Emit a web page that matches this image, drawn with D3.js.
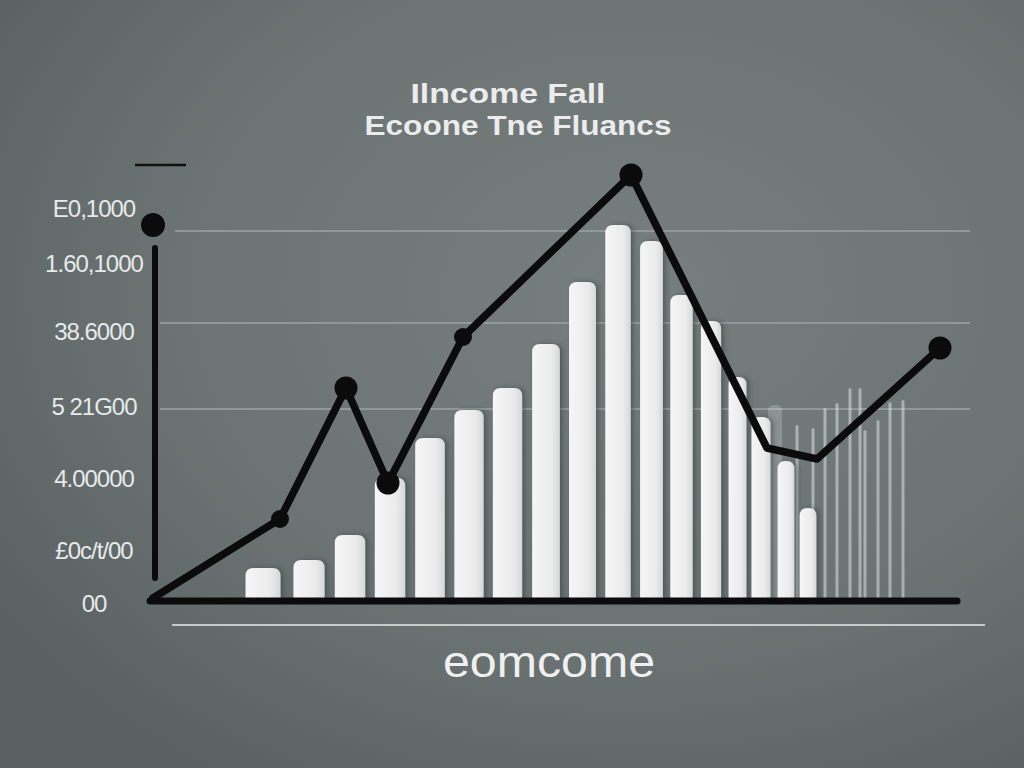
<!DOCTYPE html>
<html>
<head>
<meta charset="utf-8">
<script src="https://cdn.jsdelivr.net/npm/d3@7"></script>
<style>
html, body { margin: 0; padding: 0; background: #687070; overflow: hidden; }
</style>
</head>
<body>
<div id="chart"></div>
<script>
// chart data
var titleLines = ["Ilncome Fall", "Ecoone Tne Fluancs"];
var xLabel = "eomcome";
var yTickValues = [98, 84.25, 67.25, 48.5, 30.5, 12.5, -0.75];
var yTickLabels = ["E0,1000", "1.60,1000", "38.6000", "5 21G00", "4.00000", "£0c/t/00", "00"];
var gridValues = [92.5, 69.5, 48];
var barWeeks = [11, 15.6, 19.7, 23.7, 27.7, 31.6, 35.45, 39.3, 42.95, 46.5, 49.85, 52.85, 55.8, 58.45, 60.8, 63.3, 65.5];
var barValues = [8.25, 10.25, 16.5, 30.75, 40.75, 47.75, 53.25, 64.25, 79.75, 94, 90, 76.5, 70, 56, 46, 35, 23.25];
var ghostWeeks = [64.4, 66, 67.2, 68.4, 69.7, 70.7, 71.2, 72.5, 73.7, 75];
var ghostValues = [44, 43.25, 48.25, 49.5, 53.25, 53.25, 42.75, 45.25, 49.75, 50.25];
var wideGhostWeeks = [62.2];
var wideGhostValues = [49];
var lineWeeks = [0, 12.7, 19.3, 23.5, 31, 47.8, 61.4, 66.4, 78.7];
var lineValues = [0.75, 20.5, 53.25, 29.5, 66, 106.5, 38.25, 35.5, 63.25];
var markedPoints = [1, 2, 3, 4, 5, 8];
var axisTopValue = 94, axisLineFrom = 5.75, axisLineTo = 88.25;

function topRounded(x0, y0, w, h, r) {
    r = Math.min(r, w / 2, h);
    return "M" + x0 + "," + (y0 + h) +
        "V" + (y0 + r) +
        "Q" + x0 + "," + y0 + " " + (x0 + r) + "," + y0 +
        "H" + (x0 + w - r) +
        "Q" + (x0 + w) + "," + y0 + " " + (x0 + w) + "," + (y0 + r) +
        "V" + (y0 + h) + "Z";
}

function main() {
    var width = 1024, height = 768;
    var svg = d3.select("#chart").append("svg")
        .attr("width", width).attr("height", height);

    var defs = svg.append("defs");
    var bg = defs.append("radialGradient").attr("id", "bg")
        .attr("cx", "62%").attr("cy", "38%").attr("r", "75%");
    bg.append("stop").attr("offset", "0%").attr("stop-color", "#767e7e");
    bg.append("stop").attr("offset", "60%").attr("stop-color", "#6b7373");
    bg.append("stop").attr("offset", "100%").attr("stop-color", "#596162");

    var barGrad = defs.append("linearGradient").attr("id", "barGrad")
        .attr("x1", "0%").attr("x2", "100%");
    barGrad.append("stop").attr("offset", "0%").attr("stop-color", "#f6f6f6");
    barGrad.append("stop").attr("offset", "70%").attr("stop-color", "#ebebeb");
    barGrad.append("stop").attr("offset", "100%").attr("stop-color", "#d6d8d8");

    var shadow = defs.append("filter").attr("id", "shadow")
        .attr("x", "-30%").attr("y", "-10%").attr("width", "170%").attr("height", "130%");
    shadow.append("feDropShadow").attr("dx", 3).attr("dy", 0)
        .attr("stdDeviation", 2.5).attr("flood-color", "#2a3030").attr("flood-opacity", 0.45);

    svg.append("rect").attr("width", width).attr("height", height).attr("fill", "url(#bg)");

    var x = d3.scaleLinear().domain([0, 80]).range([153, 953]);
    var y = d3.scaleLinear().domain([0, 100]).range([601, 201]);

    // title
    svg.append("text").attr("x", 508).attr("y", 103).attr("text-anchor", "middle")
        .attr("textLength", 195).attr("lengthAdjust", "spacingAndGlyphs")
        .style("font-family", "'Liberation Sans', Arial, sans-serif").style("font-weight", "bold")
        .style("font-size", "27px").attr("fill", "#ececec").text(titleLines[0]);
    svg.append("text").attr("x", 518).attr("y", 135).attr("text-anchor", "middle")
        .attr("textLength", 307).attr("lengthAdjust", "spacingAndGlyphs")
        .style("font-family", "'Liberation Sans', Arial, sans-serif").style("font-weight", "bold")
        .style("font-size", "27px").attr("fill", "#ececec").text(titleLines[1]);

    // small dash top-left
    svg.append("line").attr("x1", 135).attr("x2", 186).attr("y1", 165).attr("y2", 165)
        .attr("stroke", "#111").attr("stroke-width", 2.5);

    // grid lines
    svg.append("g").selectAll("line").data(gridValues).enter().append("line")
        .attr("x1", function(d, i) { return i == 0 ? 175 : 160; })
        .attr("x2", 970)
        .attr("y1", function(d) { return y(d); }).attr("y2", function(d) { return y(d); })
        .attr("stroke", "#99a1a1").attr("stroke-width", 2).attr("opacity", 0.8);

    // y axis labels
    var yAxis = d3.axisLeft(y).tickValues(yTickValues).tickSize(0)
        .tickFormat(function(d, i) { return yTickLabels[i]; });
    var ya = svg.append("g").attr("transform", "translate(94,0)").call(yAxis);
    ya.select(".domain").remove();
    ya.selectAll("text").attr("x", 0).attr("text-anchor", "middle")
        .attr("fill", "#e6eaea")
        .style("font-family", "'Liberation Sans', Arial, sans-serif")
        .style("font-size", "24px").style("letter-spacing", "-1px");

    // ghost bars (faint)
    svg.append("g").selectAll("path.wide").data(wideGhostWeeks).enter().append("path")
        .attr("d", function(d, i) { return topRounded(x(d) - 7, y(wideGhostValues[i]), 14, y(0) - y(wideGhostValues[i]), 6); })
        .attr("fill", "#ffffff").attr("opacity", 0.2);
    svg.append("g").selectAll("rect").data(ghostWeeks).enter().append("rect")
        .attr("x", function(d) { return x(d) - 1.5; })
        .attr("y", function(d, i) { return y(ghostValues[i]); })
        .attr("width", 3)
        .attr("height", function(d, i) { return y(0) - y(ghostValues[i]); })
        .attr("rx", 1.5)
        .attr("fill", "#e8ecec").attr("opacity", 0.5);

    // bars
    svg.append("g").attr("filter", "url(#shadow)").selectAll("path").data(barWeeks).enter().append("path")
        .attr("d", function(d, i) {
            var gap = i < barWeeks.length - 1 ? x(barWeeks[i + 1]) - x(d) : x(d) - x(barWeeks[i - 1]);
            var w = gap * 0.76;
            return topRounded(x(d) - w / 2, y(barValues[i]), w, y(0) - y(barValues[i]), 8);
        })
        .attr("fill", "url(#barGrad)");

    // lower thin line
    svg.append("line").attr("x1", 172).attr("x2", 985).attr("y1", 625).attr("y2", 625)
        .attr("stroke", "#c4cccc").attr("stroke-width", 2);

    // baseline
    svg.append("line").attr("x1", x(0) - 3).attr("x2", x(80) + 4)
        .attr("y1", y(0)).attr("y2", y(0))
        .attr("stroke", "#0b0b0b").attr("stroke-width", 7).attr("stroke-linecap", "round");

    // vertical axis stroke with dot
    svg.append("line").attr("x1", x(0) + 2).attr("x2", x(0) + 2)
        .attr("y1", y(axisLineFrom)).attr("y2", y(axisLineTo))
        .attr("stroke", "#0b0b0b").attr("stroke-width", 6).attr("stroke-linecap", "round");
    svg.append("circle").attr("cx", x(0)).attr("cy", y(axisTopValue)).attr("r", 12)
        .attr("fill", "#0b0b0b");

    // line series
    var pts = lineWeeks.map(function(d, i) { return [x(d), y(lineValues[i])]; });
    svg.append("path").attr("d", d3.line()(pts))
        .attr("fill", "none").attr("stroke", "#0b0b0b").attr("stroke-width", 7.5)
        .attr("stroke-linejoin", "round").attr("stroke-linecap", "round");
    // turning points get the bigger markers
    svg.append("g").selectAll("circle").data(markedPoints).enter().append("circle")
        .attr("cx", function(d) { return pts[d][0]; })
        .attr("cy", function(d) { return pts[d][1]; })
        .attr("r", function(d) {
            var prev = lineValues[d - 1], next = lineValues[d + 1], v = lineValues[d];
            var turning = next === undefined || (v - prev) * (next - v) < 0;
            return turning ? 11.5 : 9;
        })
        .attr("fill", "#0b0b0b");

    // x label
    svg.append("text").attr("x", 549).attr("y", 677).attr("text-anchor", "middle")
        .attr("textLength", 212).attr("lengthAdjust", "spacingAndGlyphs")
        .style("font-family", "'Liberation Sans', Arial, sans-serif")
        .style("font-size", "44px").attr("fill", "#f0f0f0").text(xLabel);
}
main();
</script>
</body>
</html>
